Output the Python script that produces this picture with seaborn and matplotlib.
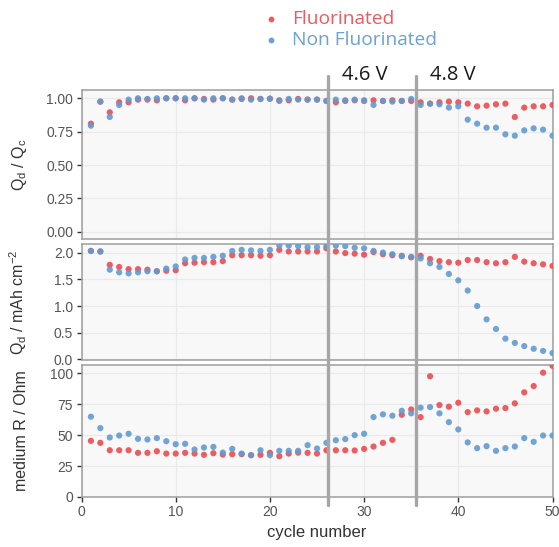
import numpy as np
import pandas as pd
import seaborn as sns
import matplotlib
matplotlib.use("Agg")
import matplotlib.pyplot as plt
from matplotlib.lines import Line2D
import matplotlib.transforms as mtransforms

cycles = list(range(1, 51))

ratio_fluor = [0.81, 0.975, 0.895, 0.97, 0.97, 0.99, 0.99, 0.985, 1.0, 1.0,
               0.985, 1.0, 0.995, 0.99, 1.0, 0.99, 0.995, 1.0, 0.995, 0.997,
               0.985, 0.985, 0.995, 0.99, 0.99, 0.98, 0.97, 0.98, 0.985, 0.98,
               0.985, 0.98, 0.985, 0.98, 0.98, 0.97, 0.96, 0.97, 0.975, 0.97,
               0.96, 0.94, 0.945, 0.955, 0.96, 0.86, 0.93, 0.94, 0.94, 0.95]
ratio_nonfluor = [0.795, 0.975, 0.86, 0.95, 0.99, 1.0, 0.995, 1.0, 1.0, 1.0,
                  1.0, 1.0, 0.99, 1.0, 1.0, 0.99, 1.0, 0.99, 0.995, 0.997,
                  0.98, 0.995, 0.99, 0.99, 0.99, 0.98, 0.99, 0.985, 0.99, 0.985,
                  0.95, 0.98, 0.975, 0.98, 0.995, 0.95, 0.96, 0.955, 0.93, 0.94,
                  0.84, 0.81, 0.78, 0.78, 0.73, 0.72, 0.76, 0.775, 0.765, 0.72]

cap_fluor = [2.03, 2.02, 1.77, 1.73, 1.69, 1.69, 1.68, 1.65, 1.66, 1.67,
             1.80, 1.81, 1.82, 1.82, 1.84, 1.95, 1.95, 1.95, 1.94, 1.95,
             2.05, 2.02, 2.02, 2.02, 2.02, 2.08, 2.02, 1.99, 1.98, 1.96,
             2.01, 1.97, 1.95, 1.94, 1.91, 1.94, 1.88, 1.84, 1.82, 1.81,
             1.86, 1.86, 1.82, 1.80, 1.82, 1.92, 1.83, 1.80, 1.78, 1.75]
cap_nonfluor = [2.03, 2.02, 1.68, 1.63, 1.61, 1.63, 1.65, 1.65, 1.70, 1.74,
                1.87, 1.90, 1.90, 1.92, 1.94, 2.03, 2.05, 2.04, 2.03, 2.05,
                2.13, 2.13, 2.12, 2.10, 2.10, 2.12, 2.13, 2.12, 2.09, 2.08,
                2.03, 2.00, 1.97, 1.93, 1.92, 1.89, 1.80, 1.73, 1.60, 1.48,
                1.29, 1.00, 0.75, 0.57, 0.39, 0.31, 0.25, 0.20, 0.16, 0.12]

res_fluor = [45.4, 43.8, 37.8, 37.8, 37.8, 35.7, 35.7, 37.0, 35.1, 35.1,
             35.7, 35.1, 34.1, 35.4, 34.3, 34.6, 34.6, 33.8, 34.1, 35.7,
             33.0, 35.1, 35.9, 35.7, 35.1, 37.8, 37.8, 37.8, 37.6, 38.9,
             40.8, 43.8, 46.2, 66.5, 70.8, 64.6, 97.6, 74.3, 73.0, 76.2,
             68.6, 70.0, 69.2, 71.4, 71.9, 75.7, 84.6, 89.7, 100.5, 106.0]
res_nonfluor = [64.9, 55.7, 48.1, 49.7, 51.1, 47.0, 46.5, 47.6, 45.1, 42.7,
                43.0, 38.4, 40.0, 40.5, 35.9, 38.9, 35.1, 33.8, 37.8, 33.8,
                37.3, 37.3, 37.3, 41.9, 39.2, 43.8, 45.9, 46.8, 50.0, 51.1,
                64.6, 66.8, 65.7, 69.7, 67.6, 72.2, 72.7, 67.6, 60.5, 54.6,
                44.1, 39.5, 41.1, 37.3, 39.5, 40.8, 47.6, 44.6, 49.7, 49.7]

series_names = ["Fluorinated", "Non Fluorinated"]
metric_names = ["ratio", "capacity", "resistance"]
y_labels = [r"Q$_\mathregular{d}$ / Q$_\mathregular{c}$",
            r"Q$_\mathregular{d}$ / mAh cm$^\mathregular{-2}$",
            "medium R / Ohm"]
y_ticks = [[0.0, 0.25, 0.5, 0.75, 1.0], [0.0, 0.5, 1.0, 1.5, 2.0], [0, 25, 50, 75, 100]]
y_fmt = ["{:.2f}", "{:.1f}", "{:.0f}"]
y_lims = [(-0.05, 1.062), (-0.01, 2.16), (0, 106.7)]
x_ticks = [0, 10, 20, 30, 40, 50]
voltage_steps = [26.2, 35.5]
voltage_labels = ["4.6 V", "4.8 V"]

rows = []
for metric, (f_vals, n_vals) in zip(metric_names, [(ratio_fluor, ratio_nonfluor),
                                                  (cap_fluor, cap_nonfluor),
                                                  (res_fluor, res_nonfluor)]):
    for c, v in zip(cycles, f_vals):
        rows.append((c, v, series_names[0], metric))
    for c, v in zip(cycles, n_vals):
        rows.append((c, v, series_names[1], metric))
df = pd.DataFrame(rows, columns=["cycle", "value", "series", "metric"])

palette = {"Fluorinated": "#EB4C52", "Non Fluorinated": "#629BD0"}
legend_colors = {"Fluorinated": "#EF5A5E", "Non Fluorinated": "#6CA1D3"}

sns.set_theme(style="whitegrid")
plt.rcParams["font.family"] = ["Liberation Sans", "DejaVu Sans"]

W, H = 559, 547
fig = plt.figure(figsize=(W / 100, H / 100), dpi=100)

# panel extents in pixels (top, bottom)
left_px, right_px = 81.5, 552.5
panels_px = [(90, 238.5), (244, 360), (365, 497)]
axes = []
for top, bot in panels_px:
    ax = fig.add_axes([left_px / W, 1 - bot / H, (right_px - left_px) / W, (bot - top) / H])
    axes.append(ax)

for i, (ax, metric) in enumerate(zip(axes, metric_names)):
    sub = df[df.metric == metric]
    sns.scatterplot(data=sub, x="cycle", y="value", hue="series", palette=palette,
                    hue_order=series_names, s=20, linewidth=0, alpha=0.9,
                    legend=False, ax=ax, zorder=3)
    ax.set_xlim(0, 50)
    ax.set_ylim(*y_lims[i])
    ax.set_yticks(y_ticks[i])
    ax.set_yticklabels([y_fmt[i].format(t) for t in y_ticks[i]])
    ax.set_xticks(x_ticks)
    ax.set_facecolor("#F8F8F8")
    ax.grid(True, color="#EAEAEA", linewidth=0.9)
    for sp in ax.spines.values():
        sp.set_color("#9E9E9E")
        sp.set_linewidth(1.1)
    ax.tick_params(axis="y", which="both", left=True, length=3.5, width=1,
                   color="#333333", labelsize=10, labelcolor="#555555", pad=2.5)
    ax.set_xlabel("")
    ax.set_ylabel(y_labels[i], fontsize=11.5, color="#333333")
    ax.yaxis.set_label_coords(-0.112, 0.5)
    if i < 2:
        ax.tick_params(axis="x", bottom=False, labelbottom=False)
    else:
        ax.tick_params(axis="x", bottom=True, length=3.5, width=1, color="#333333",
                       labelsize=10, labelcolor="#555555", pad=2.5)
        ax.set_xlabel("cycle number", fontsize=12, color="#333333", labelpad=4)

# voltage step lines spanning all panels
trans = mtransforms.blended_transform_factory(axes[0].transData, fig.transFigure)
offset = mtransforms.ScaledTranslation(14 / 100, 0, fig.dpi_scale_trans)
for xv, lab in zip(voltage_steps, voltage_labels):
    fig.add_artist(Line2D([xv, xv], [1 - 505 / H, 1 - 76 / H], transform=trans,
                          color="#A6A6A6", linewidth=2.4, zorder=10))
    fig.text(xv, 1 - 75 / H, lab, transform=trans + offset, ha="left", va="center",
             fontsize=14.5, color="#1A1A1A", family=["Open Sans", "DejaVu Sans"])

# legend
for j, name in enumerate(series_names):
    ypx = 19 + j * 21
    fig.add_artist(Line2D([271 / W], [1 - ypx / H], marker="o", markersize=3.2,
                          color=legend_colors[name], linestyle="none",
                          transform=fig.transFigure))
    fig.text(292 / W, 1 - ypx / H, name, ha="left", va="center", fontsize=13.8,
             color=legend_colors[name], family=["Open Sans", "DejaVu Sans"])

fig.savefig("out.png", dpi=100)
